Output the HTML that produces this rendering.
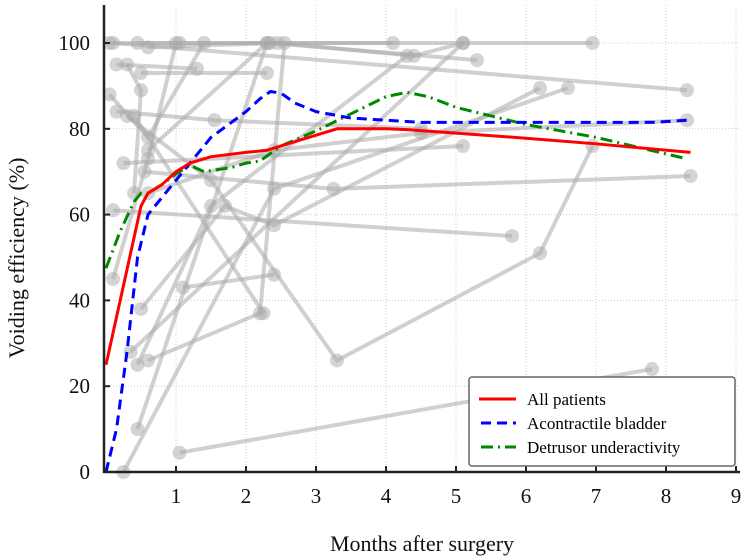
<!DOCTYPE html>
<html><head><meta charset="utf-8"><style>
body{margin:0;background:#fff}
svg{display:block;font-family:"Liberation Serif",serif}
</style></head><body>
<svg id="chart" width="746" height="560" viewBox="0 0 746 560" xmlns="http://www.w3.org/2000/svg">
<g id="grid"></g>
<g id="patients"></g>
<g id="means"></g>
<g id="axes"></g>
<text transform="translate(24,258) rotate(-90)" text-anchor="middle" font-size="22" fill="#111">Voiding efficiency (%)</text>
<text x="422" y="551" text-anchor="middle" font-size="22" fill="#111">Months after surgery</text>
<g>
<rect x="469" y="377" width="266" height="89" rx="3" fill="#fff" stroke="#666" stroke-width="1.5"/>
<g><line x1="479" y1="399" x2="516" y2="399" stroke="#f00" stroke-width="3"/><text x="527" y="405" font-size="17">All patients</text></g>
<g><line x1="481" y1="423" x2="516" y2="423" stroke="#00f" stroke-width="3" stroke-dasharray="10,6"/><text x="527" y="429" font-size="17">Acontractile bladder</text></g>
<g><line x1="481" y1="447" x2="516" y2="447" stroke="#080" stroke-width="3" stroke-dasharray="12,5,2,5"/><text x="527" y="453" font-size="17">Detrusor underactivity</text></g>
</g>
</svg>
<script>
const xTicks=[1,2,3,4,5,6,7,8,9];
const yTicks=[0,20,40,60,80,100];
const patients=[
[[0.05,100],[1.05,100],[4.1,100]],
[[0.15,95],[1.3,94]],
[[0.45,100],[2.35,100],[5.3,96]],
[[0.5,93],[2.3,93]],
[[0.15,84],[1.55,82],[4.5,80]],
[[0.6,99],[2.45,100],[4.4,97],[5.1,100]],
[[0.6,75],[2.3,100],[6.95,100]],
[[0.3,83],[1.5,68],[3.3,26],[6.2,51],[6.95,76]],
[[1.05,4.5],[7.8,24]],
[[0.45,10],[2.3,100]],
[[0.25,0],[2.4,66],[6.6,89.5]],
[[0.5,38],[1.7,62],[2.4,57.5],[6.2,89.5]],
[[1.1,43],[2.4,46]],
[[0.6,26],[2.2,37],[2.55,100]],
[[0.4,83],[2.25,37]],
[[0.35,28],[5.1,100]],
[[0.1,61],[5.8,55]],
[[0.55,70],[3.25,66],[8.35,69]],
[[0.25,72],[5.1,76]],
[[0.6,65],[2.4,75],[4.5,79],[8.3,82]],
[[0.45,25],[1.5,62],[4.3,97]],
[[0.1,45],[0.6,73],[1.0,100]],
[[0.05,88],[0.6,78],[1.4,100]],
[[0.1,100],[8.3,89]],
[[0.3,95],[0.5,89],[0.4,65]]
];
const allX=[0,0.5,0.6,0.8,1,1.2,1.5,2,2.3,2.5,3,3.3,4,4.3,5,6,7,8.35];
const allY=[25,62,65,67,70,72,73.5,74.5,75,76,78.5,80,80,79.8,79,77.8,76.5,74.5];
const acoX=[0,0.15,0.3,0.45,0.6,0.8,1,1.2,1.5,2,2.2,2.35,2.5,2.7,3,3.5,4,4.5,5,6,7,7.8,8.3];
const acoY=[0,10,28,50,60,64,68,72,78,84,87,88.7,88.3,86,84,82.5,82,81.5,81.5,81.5,81.5,81.5,82];
const detX=[0,0.2,0.4,0.5,0.6,0.8,1,1.2,1.4,1.8,2,2.2,2.5,3,3.5,4,4.3,4.6,5,5.5,6,6.5,7,8.3];
const detY=[47.5,56,63,65,65,67,69.5,71.5,70,71,72,72.5,76,79.5,83.5,87.5,88.5,87.5,85,83,81,79.5,78,73];
const NS='http://www.w3.org/2000/svg';
const X=v=>106+v*70, Y=v=>472-v*4.29;
function mk(t,a,p){const e=document.createElementNS(NS,t);for(const k in a)e.setAttribute(k,a[k]);p.appendChild(e);return e;}
const grid=document.getElementById('grid');
xTicks.forEach(t=>{const l=mk('line',{x1:X(t),x2:X(t),y1:5,y2:472,stroke:'#ccc','stroke-dasharray':'1,2'},grid);

});
yTicks.filter(t=>t>0).forEach(t=>{const l=mk('line',{x1:104,x2:738,y1:Y(t),y2:Y(t),stroke:'#ccc','stroke-dasharray':'1,2'},grid);

});
const pg=document.getElementById('patients');
patients.forEach(p=>{const g=mk('g',{},pg);


mk('polyline',{points:p.map(d=>X(d[0])+','+Y(d[1])).join(' '),fill:'none',stroke:'#aaa','stroke-opacity':0.55,'stroke-width':4},g);
p.forEach(d=>{const c=mk('circle',{cx:X(d[0]),cy:Y(d[1]),r:7,fill:'#aaa','fill-opacity':0.5},g);

});});
const mg=document.getElementById('means');
function curve(xs,ys,col,dash,name){const l=mk('polyline',{points:xs.map((x,i)=>X(x)+','+Y(ys[i])).join(' '),fill:'none',stroke:col,'stroke-width':3,'stroke-dasharray':dash,'stroke-linejoin':'round'},mg);

}
curve(detX,detY,'#080','12,5,2,5','detrusor-underactivity-line');
curve(acoX,acoY,'#00f','10,6','acontractile-bladder-line');
curve(allX,allY,'#f00','none','all-patients-line');
const ax=document.getElementById('axes');
mk('line',{x1:104,x2:104,y1:5,y2:473,stroke:'#222','stroke-width':2.5},ax);
mk('line',{x1:103,x2:740,y1:472,y2:472,stroke:'#222','stroke-width':2.5},ax);
xTicks.forEach(t=>{mk('line',{x1:X(t),x2:X(t),y1:472,y2:466,stroke:'#222','stroke-width':2},ax);
const tx=mk('text',{x:X(t),y:503,'text-anchor':'middle','font-size':21,fill:'#111'},ax);tx.textContent=t;

});
yTicks.forEach(t=>{mk('line',{x1:104,x2:110,y1:Y(t),y2:Y(t),stroke:'#222','stroke-width':2},ax);
const tx=mk('text',{x:90,y:Y(t)+7,'text-anchor':'end','font-size':21,fill:'#111'},ax);tx.textContent=t;

});
</script>
</body></html>
